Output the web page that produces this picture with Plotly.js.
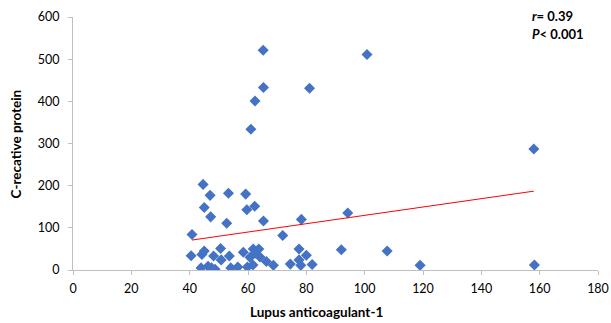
<!DOCTYPE html>
<html>
<head>
<meta charset="utf-8">
<script src="https://cdn.plot.ly/plotly-3.0.1.min.js"></script>
<style>html,body{margin:0;padding:0;background:#fff;}#chart{width:611px;height:323px;}</style>
</head>
<body>
<div id="chart"></div>
<script>
const lupusX = [65.2,100.8,65.3,81.1,62.4,61,158,44.6,47,53.3,59.2,45,59.6,62.3,47.2,52.7,65.3,78.3,94.2,40.8,71.9,40.5,44.2,45,50.6,48.2,50.8,53.6,58.4,61.8,63.7,62.5,60.7,64.1,66.3,68.7,77.5,80,77.5,74.5,78.1,82,92,107.7,119,158.2,43.9,46.3,47.5,48.7,54.1,56.5,59.8,61.7];
const crpY   = [521,511,433,431,401,334,287,203,177,182,180,148,143,151,126,111,116,120,135,84,82,34,37,45,51,33,24,33,42,50,50,40,30,31,20,11,50,35,24,14,11,13,48,45,11,12,5,9,5,2,5,7,7,12];
const trendX = [40.8,158];
const trendY = [71,187];
const xTicks = [0,20,40,60,80,100,120,140,160,180];
const yTicks = [0,100,200,300,400,500,600];

const font = "Lato, 'Open Sans', 'Liberation Sans', sans-serif";
const data = [
  {x: lupusX, y: crpY, type:'scatter', mode:'markers',
   marker:{symbol:'diamond', size:8.5, color:'#4472C4'}, hoverinfo:'none'},
  {x: trendX, y: trendY, type:'scatter', mode:'lines',
   line:{color:'#FF0000', width:1}, hoverinfo:'none'}
];
const layout = {
  width:611, height:323,
  margin:{l:73, r:13, t:17, b:53},
  paper_bgcolor:'#fff', plot_bgcolor:'#fff',
  showlegend:false,
  font:{family:font, size:12, color:'#000'},
  xaxis:{range:[0,180], tickvals:xTicks, ticktext:xTicks.map(String),
    showgrid:false, zeroline:false, showline:true, linecolor:'#BFBFBF', linewidth:1,
    ticks:'outside', ticklen:4, tickcolor:'#BFBFBF', ticklabelstandoff:3,
    tickfont:{family:font, size:12.5, color:'#000'}},
  yaxis:{range:[0,600], tickvals:yTicks, ticktext:yTicks.map(String),
    showgrid:false, zeroline:false, showline:true, linecolor:'#BFBFBF', linewidth:1,
    ticks:'outside', ticklen:4, tickcolor:'#BFBFBF', ticklabelstandoff:6,
    tickfont:{family:font, size:12.5, color:'#000'}},
  annotations:[
    {xref:'paper', yref:'paper', x:0.463, y:-0.166, xanchor:'center', yanchor:'middle', showarrow:false,
     text:'<b>Lupus anticoagulant-1</b>', font:{family:font, size:13.5, color:'#000'}},
    {xref:'paper', yref:'paper', x:-0.1086, y:0.5, xanchor:'center', yanchor:'middle', showarrow:false, textangle:-90,
     text:'<b>C-recative protein</b>', font:{family:font, size:13.5, color:'#000'}},
    {xref:'paper', yref:'paper', x:0.87, y:1.004, xanchor:'left', yanchor:'middle', showarrow:false,
     text:'<b><i>r</i>= 0.39</b>', font:{family:font, size:13, color:'#000'}},
    {xref:'paper', yref:'paper', x:0.87, y:0.933, xanchor:'left', yanchor:'middle', showarrow:false,
     text:'<b><i>P</i>< 0.001</b>', font:{family:font, size:13, color:'#000'}}
  ]
};
Plotly.newPlot('chart', data, layout, {staticPlot:true, displayModeBar:false});
</script>
</body>
</html>
